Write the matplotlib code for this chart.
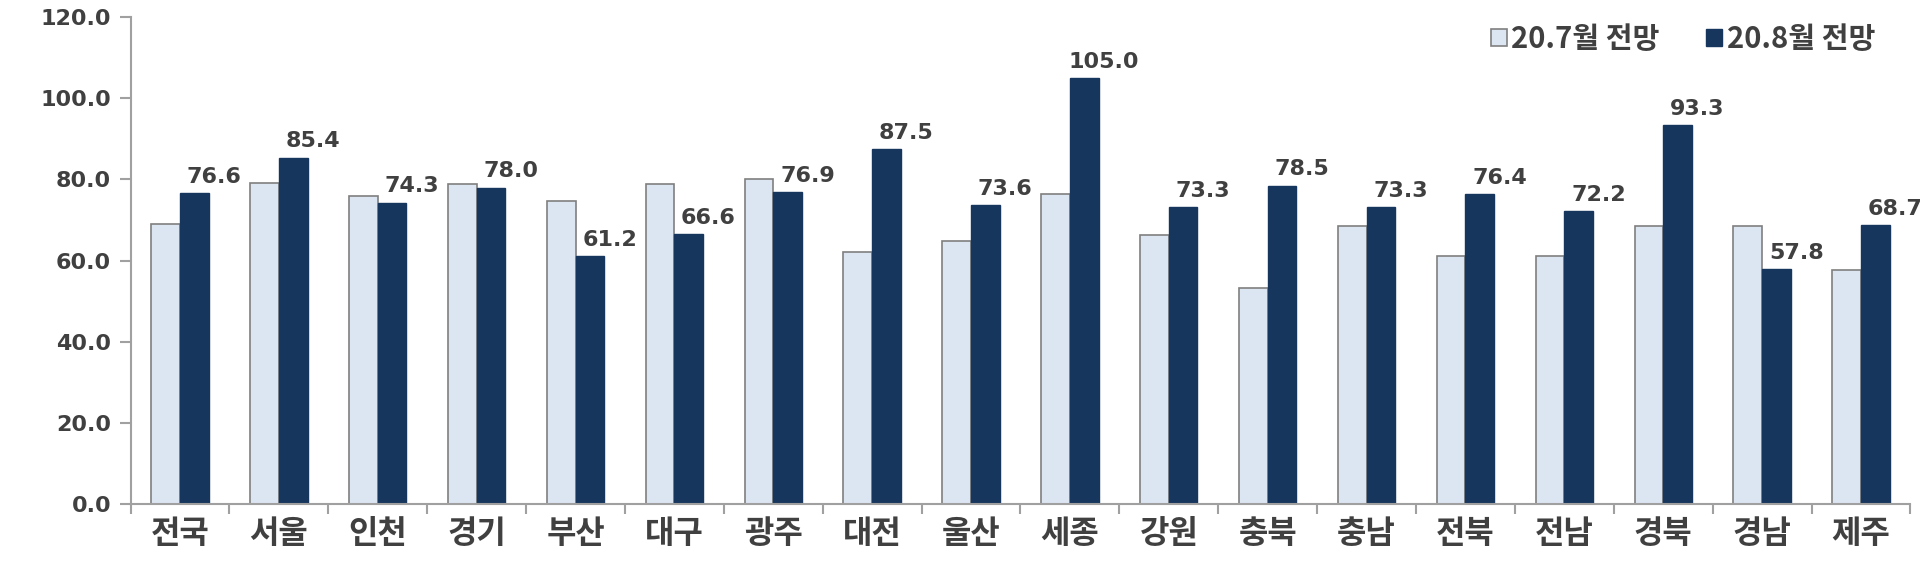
import matplotlib
matplotlib.use("Agg")
import matplotlib.pyplot as plt
import numpy as np

plt.rcParams["font.family"] = ["Noto Sans CJK KR", "DejaVu Sans"]

regions = ["전국", "서울", "인천", "경기", "부산", "대구", "광주", "대전", "울산",
           "세종", "강원", "충북", "충남", "전북", "전남", "경북", "경남", "제주"]
jul_outlook = [69.0, 79.2, 75.8, 78.9, 74.6, 78.9, 80.1, 62.2, 64.7,
               76.4, 66.2, 53.2, 68.6, 61.0, 61.0, 68.6, 68.6, 57.7]
aug_outlook = [76.6, 85.4, 74.3, 78.0, 61.2, 66.6, 76.9, 87.5, 73.6,
               105.0, 73.3, 78.5, 73.3, 76.4, 72.2, 93.3, 57.8, 68.7]
series_names = ["20.7월 전망", "20.8월 전망"]
y_ticks = [0, 20, 40, 60, 80, 100, 120]

light = "#dce6f2"
dark = "#17365d"
grey_text = "#404040"
axis_col = "#a0a0a0"

fig = plt.figure(figsize=(19.2, 5.72), dpi=100)
ax = fig.add_axes([0.068, 0.119, 0.927, 0.851])

x = np.arange(len(regions))
w = 0.29
ax.bar(x - w / 2, jul_outlook, w, color=light, edgecolor="#7f7f7f",
       linewidth=1.2, label=series_names[0], zorder=2)
ax.bar(x + w / 2, aug_outlook, w, color=dark, edgecolor=dark,
       linewidth=1.0, label=series_names[1], zorder=2)

# labels only on the August bars
for xi, v in zip(x, aug_outlook):
    ax.text(xi + w / 2 + 0.2, v + 1.5, f"{v:.1f}", ha="center", va="bottom",
            fontsize=16, color=grey_text, fontweight="bold",
            family=["DejaVu Sans"])

ax.set_xlim(-0.5, len(regions) - 0.5)
ax.set_ylim(0, 120)
ax.set_yticks(y_ticks)
ax.set_yticklabels([f"{t:.1f}" for t in y_ticks], family=["DejaVu Sans"],
                   fontsize=16, color=grey_text, fontweight="bold")
ax.set_xticks(x)
ax.set_xticklabels(regions, fontsize=23, color=grey_text, fontweight="bold")
ax.set_xticks(np.arange(len(regions) + 1) - 0.5, minor=True)
ax.tick_params(axis="x", which="major", length=0, pad=10)
ax.tick_params(axis="x", which="minor", length=7, color=axis_col, width=1.5)
ax.tick_params(axis="y", length=8, color=axis_col, width=1.5, pad=6)

for s in ["top", "right"]:
    ax.spines[s].set_visible(False)
for s in ["left", "bottom"]:
    ax.spines[s].set_color(axis_col)
    ax.spines[s].set_linewidth(1.5)

leg = ax.legend(loc="upper right", bbox_to_anchor=(0.995, 1.04), ncol=2,
                frameon=False, fontsize=21, handlelength=0.55, handleheight=0.55,
                handletextpad=0.15, columnspacing=1.6,
                prop={"size": 21, "weight": "bold"})
for t in leg.get_texts():
    t.set_color(grey_text)

fig.savefig("out.png", dpi=100)
